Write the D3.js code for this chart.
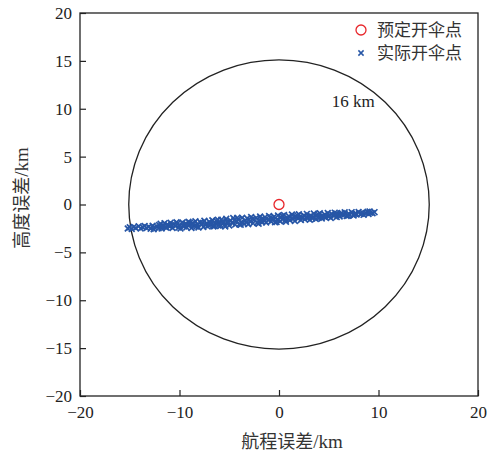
<!DOCTYPE html>
<html>
<head>
<meta charset="utf-8">
<script src="https://cdn.jsdelivr.net/npm/d3@7"></script>
<style>
  body { margin: 0; background: #fff; }
  .tick text { font-family: "Liberation Serif", serif; font-size: 17px; fill: #222; }
  .cjk { font-family: "Noto Sans CJK SC", sans-serif; fill: #333; }
</style>
</head>
<body>
<div id="chart"></div>
<script>
// drop point scatter: planned vs actual parachute opening points

const height = 456,
    width = 500,
    margin = ({ top: 13, right: 22, bottom: 60, left: 80 });

// axis ticks
const xTicks = [-20, -10, 0, 10, 20];
const yTicks = [-20, -15, -10, -5, 0, 5, 10, 15, 20];

// planned opening point (km)
const plannedPoint = [0, 0];

// boundary circle radius (km) and its label
const circleRadius = 15.1;
const circleLabel = "16 km";

// actual opening points [range error, height error] (km)
const actualPoints = [
  [-15.2, -2.50], [-15.0, -2.38], [-14.8, -2.55], [-14.6, -2.35], [-14.4, -2.45], [-14.1, -2.28],
  [-13.9, -2.50], [-13.7, -2.38], [-13.5, -2.24], [-13.3, -2.46], [-13.1, -2.33], [-12.9, -2.52],
  [-12.7, -2.22], [-12.5, -2.40], [-12.3, -2.30], [-12.1, -2.47], [-12.05, -2.15], [-12.6, -2.58],
  [-11.9, -2.02], [-11.8, -2.50], [-11.6, -2.20], [-11.5, -1.95], [-11.3, -2.42], [-11.2, -2.10],
  [-11.0, -2.30], [-10.9, -1.90], [-10.7, -2.45], [-10.6, -2.05], [-10.4, -2.25], [-10.3, -1.85],
  [-10.1, -2.40], [-10.0, -2.12], [-9.9, -2.50], [-9.7, -1.88], [-9.6, -2.20], [-9.4, -2.00],
  [-9.3, -2.38], [-9.1, -1.80], [-9.0, -2.15], [-8.8, -2.45], [-8.7, -1.95], [-8.5, -2.25],
  [-8.4, -1.75], [-8.2, -2.10], [-8.1, -2.40], [-7.9, -1.85], [-7.8, -2.05], [-7.6, -2.35],
  [-7.5, -1.70], [-7.3, -2.00], [-7.2, -2.28], [-7.0, -1.80], [-6.9, -2.12], [-6.7, -1.65],
  [-6.6, -2.30], [-6.4, -1.95], [-6.3, -1.72], [-6.1, -2.20], [-6.0, -1.88], [-11.45, -2.35],
  [-10.85, -2.18], [-10.2, -1.98], [-9.55, -2.30], [-8.95, -1.90], [-8.3, -2.30], [-7.65, -1.92],
  [-7.05, -2.18], [-6.45, -2.25], [-6.15, -1.60], [-11.75, -2.32], [-9.25, -2.08], [-8.6, -2.02],
  [-7.4, -2.15], [-6.8, -1.98],
  [-5.9, -2.25], [-5.8, -1.60], [-5.6, -1.95], [-5.5, -2.15], [-5.3, -1.50], [-5.2, -1.80],
  [-5.0, -2.20], [-4.9, -1.68], [-4.7, -1.95], [-4.6, -1.42], [-4.4, -2.10], [-4.3, -1.75],
  [-4.1, -1.55], [-4.0, -2.05], [-3.8, -1.85], [-3.7, -1.38], [-3.5, -2.00], [-3.4, -1.65],
  [-3.2, -1.45], [-3.1, -2.05], [-2.9, -1.78], [-2.8, -1.30], [-2.6, -1.95], [-2.5, -1.58],
  [-2.3, -1.40], [-2.2, -1.90], [-2.0, -1.72], [-1.9, -1.25], [-1.7, -1.85], [-1.6, -1.52],
  [-1.4, -1.32], [-1.3, -1.88], [-1.1, -1.62], [-1.0, -1.20], [-0.8, -1.78], [-0.7, -1.45],
  [-0.5, -1.28], [-0.4, -1.85], [-0.2, -1.58], [-0.1, -1.15], [-5.65, -1.72], [-5.05, -1.90],
  [-4.45, -1.60], [-3.85, -2.12], [-3.25, -1.85], [-2.65, -1.50], [-2.05, -2.00], [-1.45, -1.70],
  [-0.85, -1.35], [-0.25, -1.82], [-5.4, -2.30], [-4.2, -1.40], [-3.0, -1.60], [-1.8, -1.55],
  [-0.6, -1.62],
  [0.1, -1.75], [0.2, -1.30], [0.4, -1.55], [0.5, -1.10], [0.7, -1.80], [0.8, -1.40],
  [1.0, -1.22], [1.1, -1.65], [1.3, -1.05], [1.4, -1.50], [1.6, -1.72], [1.7, -1.25],
  [1.9, -1.45], [2.0, -1.02], [2.2, -1.62], [2.3, -1.35], [2.5, -1.15], [2.6, -1.55],
  [2.8, -0.98], [2.9, -1.40], [3.1, -1.60], [3.2, -1.18], [3.4, -1.30], [3.5, -0.95],
  [3.7, -1.52], [3.8, -1.12], [4.0, -1.38], [4.1, -0.92], [4.3, -1.45], [4.4, -1.20],
  [4.6, -1.05], [4.7, -1.35], [4.9, -0.88], [5.0, -1.25], [5.2, -1.40], [5.3, -1.00],
  [5.5, -1.18], [5.6, -0.85], [5.8, -1.30], [5.9, -1.05], [0.35, -1.20], [0.95, -1.48],
  [1.55, -1.35], [2.15, -1.25], [2.75, -1.30], [3.35, -1.45], [3.95, -1.05], [4.55, -1.28],
  [5.15, -1.12], [5.75, -0.95], [0.65, -1.62], [1.85, -1.15], [3.05, -1.28], [4.25, -1.30],
  [6.1, -1.25], [6.3, -0.90], [6.5, -1.10], [6.6, -0.82], [6.8, -1.20], [7.0, -0.95],
  [7.1, -1.08], [7.3, -0.80], [7.5, -1.15], [7.7, -0.92], [7.8, -1.05], [8.0, -0.78],
  [8.2, -1.00], [8.4, -0.85], [8.5, -1.08], [8.7, -0.90], [8.9, -0.75], [9.0, -0.98],
  [9.2, -0.85], [9.4, -0.92], [9.6, -0.80], [6.2, -1.02], [6.95, -1.18], [7.6, -1.00],
  [8.3, -0.95], [9.1, -0.72]
];

// legend entries
const legendLabels = ["预定开伞点", "实际开伞点"];

const red = "#e8262b", blue = "#2756a6";

const svg = d3.select("#chart")
    .append("svg")
    .attr("width", width)
    .attr("height", height);

let x = d3.scaleLinear()
    .domain([-20, 20])
    .range([margin.left, width - margin.right]);

let y = d3.scaleLinear()
    .domain([-20, 20])
    .range([height - margin.bottom, margin.top]);

// frame
svg.append("rect")
    .attr("x", x(-20))
    .attr("y", y(20))
    .attr("width", x(20) - x(-20))
    .attr("height", y(-20) - y(20))
    .attr("fill", "none")
    .attr("stroke", "#222")
    .attr("stroke-width", 1.3);

// y axis, ticks point inward
svg.append("g")
    .attr("transform", `translate(${x(-20)},0)`)
    .call(d3.axisLeft(y).tickValues(yTicks).tickSize(-6).tickPadding(8).tickSizeOuter(0))
    .call(g => g.select(".domain").remove())
    .call(g => g.selectAll(".tick line").attr("stroke", "#222").attr("stroke-width", 1.2));

// x axis
svg.append("g")
    .attr("transform", `translate(0,${y(-20)})`)
    .call(d3.axisBottom(x).tickValues(xTicks).tickSize(-6).tickPadding(10).tickSizeOuter(0))
    .call(g => g.select(".domain").remove())
    .call(g => g.selectAll(".tick line").attr("stroke", "#222").attr("stroke-width", 1.2));

// boundary circle (drawn in data units)
svg.append("ellipse")
    .attr("cx", x(0))
    .attr("cy", y(0))
    .attr("rx", x(circleRadius) - x(0))
    .attr("ry", y(0) - y(circleRadius))
    .attr("fill", "none")
    .attr("stroke", "#222")
    .attr("stroke-width", 1.3);

svg.append("text")
    .attr("x", x(5.3))
    .attr("y", y(10.2))
    .attr("font-family", "Liberation Serif, serif")
    .attr("font-size", 17)
    .attr("fill", "#222")
    .text(circleLabel);

// actual points as small crosses
const cross = s => `M${-s},${-s}L${s},${s}M${-s},${s}L${s},${-s}`;

svg.append("g")
  .selectAll("path")
  .data(actualPoints)
  .join("path")
    .attr("transform", d => `translate(${x(d[0])},${y(d[1])})`)
    .attr("d", cross(2.9))
    .attr("stroke", blue)
    .attr("stroke-width", 1.7)
    .attr("fill", "none");

// planned point
svg.append("circle")
    .attr("cx", x(plannedPoint[0]))
    .attr("cy", y(plannedPoint[1]))
    .attr("r", 5)
    .attr("fill", "none")
    .attr("stroke", red)
    .attr("stroke-width", 1.3);

// legend
const legend = svg.append("g").attr("transform", "translate(361,30)");

legend.append("circle")
    .attr("r", 5)
    .attr("fill", "none")
    .attr("stroke", red)
    .attr("stroke-width", 1.3);

legend.append("path")
    .attr("transform", "translate(0,23)")
    .attr("d", cross(2.6))
    .attr("stroke", blue)
    .attr("stroke-width", 1.5);

legend.selectAll("text")
  .data(legendLabels)
  .join("text")
    .attr("class", "cjk")
    .attr("x", 16)
    .attr("y", (d, i) => i * 23)
    .attr("dy", "0.36em")
    .attr("font-size", 17)
    .text(d => d);

// axis titles
const xTitle = svg.append("text")
    .attr("class", "cjk")
    .attr("x", 292)
    .attr("y", 448)
    .attr("text-anchor", "middle")
    .attr("font-size", 18);
xTitle.append("tspan").text("航程误差");
xTitle.append("tspan").attr("font-family", "Liberation Serif, serif").attr("font-size", 19).text("/km");

const yTitle = svg.append("text")
    .attr("class", "cjk")
    .attr("transform", "translate(28,198) rotate(-90)")
    .attr("text-anchor", "middle")
    .attr("font-size", 18);
yTitle.append("tspan").text("高度误差");
yTitle.append("tspan").attr("font-family", "Liberation Serif, serif").attr("font-size", 19).text("/km");
</script>
</body>
</html>
